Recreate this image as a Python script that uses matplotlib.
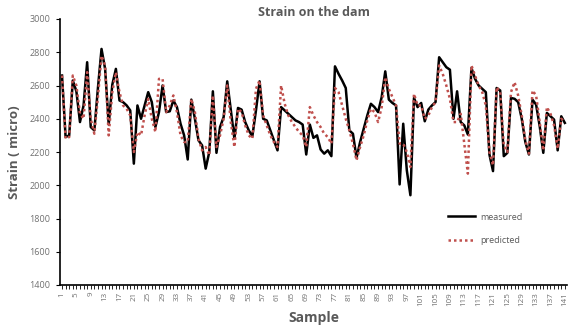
import matplotlib
matplotlib.use('Agg')
import matplotlib.pyplot as plt

# sample numbers 1..141
samples = list(range(1, 142))

measured = [2660, 2290, 2300, 2630, 2565, 2380, 2480, 2740, 2350, 2330,
            2585, 2820, 2700, 2365, 2605, 2700, 2510, 2500, 2480, 2450,
            2130, 2480, 2400, 2480, 2560, 2500, 2350, 2440, 2600, 2440,
            2445, 2510, 2470, 2370, 2300, 2155, 2515, 2400, 2270, 2240,
            2100, 2200, 2565, 2195, 2350, 2410, 2625, 2450, 2280, 2465,
            2455, 2380, 2330, 2295, 2450, 2625, 2400, 2390, 2330, 2270,
            2210, 2470, 2450, 2430, 2410, 2390, 2380, 2365, 2185, 2365,
            2285, 2300, 2215, 2190, 2210, 2175, 2715, 2670, 2630, 2585,
            2330, 2310, 2165, 2260, 2340, 2420, 2490, 2470, 2440, 2530,
            2685, 2515, 2495, 2480, 2005, 2370, 2090, 1940, 2525, 2470,
            2495, 2385, 2455, 2480, 2500, 2770, 2740, 2710, 2695, 2400,
            2565, 2380, 2360, 2305, 2705, 2640, 2600, 2580, 2560, 2185,
            2085, 2585, 2570, 2175, 2195, 2525, 2520, 2500, 2400, 2260,
            2185, 2515, 2485, 2355, 2195, 2435, 2415, 2395, 2210, 2415,
            2375]

predicted = [2660, 2280, 2290, 2660, 2600, 2430, 2400, 2680, 2400, 2310,
             2530, 2780, 2720, 2300, 2560, 2680, 2560, 2480, 2460, 2420,
             2200, 2320, 2300, 2420, 2520, 2400, 2320, 2640, 2640, 2440,
             2480, 2540, 2440, 2300, 2260, 2260, 2520, 2440, 2280, 2210,
             2230, 2180, 2540, 2230, 2300, 2400, 2600, 2380, 2230, 2460,
             2440, 2360, 2300, 2280, 2580, 2630, 2420, 2360, 2300, 2260,
             2230, 2600, 2490, 2420, 2380, 2350, 2320, 2300, 2230, 2470,
             2420, 2380, 2350, 2310, 2290, 2250, 2585, 2560, 2480, 2400,
             2330, 2250, 2150, 2230, 2300, 2390, 2460, 2440, 2380, 2470,
             2650, 2580, 2530, 2480, 2250, 2250, 2200, 2110, 2550, 2480,
             2480, 2400, 2420, 2470, 2500, 2720, 2670, 2600, 2520, 2380,
             2380, 2430, 2250, 2070, 2720, 2660, 2600, 2560, 2480, 2200,
             2120, 2590, 2560, 2240, 2200, 2560, 2620, 2540, 2420, 2270,
             2190, 2570, 2540, 2380, 2210, 2470, 2430, 2360, 2220, 2400,
             2380]

tick_labels = [str(s) for s in samples]

gray = '#595959'
plt.rcParams['font.family'] = ['Open Sans', 'DejaVu Sans']

fig = plt.figure(figsize=(5.68, 3.30), dpi=100)
ax = fig.add_axes([60/568, 1-285/330, 507/568, 266/330])

ax.plot(samples, measured, color='black', lw=1.8, label='measured')
ax.plot(samples, predicted, color='#C0504D', lw=1.8, linestyle=(0, (1, 1.2)), label='predicted')

ax.set_xlim(0.44, 141.6)
ax.set_ylim(1400, 3000)
ax.set_yticks(range(1400, 3001, 200))
ax.tick_params(axis='y', labelsize=6.5, labelcolor='#707070', length=3, width=0.8, pad=4)

ax.set_xticks(samples)
ax.set_xticklabels([l if (int(l) - 1) % 4 == 0 else '' for l in tick_labels], rotation=90)
ax.tick_params(axis='x', labelsize=5.8, labelcolor='#707070', length=3, width=0.6, pad=2)

for s in ['top', 'right']:
    ax.spines[s].set_visible(False)
ax.spines['left'].set_linewidth(1.2)
ax.spines['bottom'].set_linewidth(1.2)

ax.set_title('Strain on the dam', fontsize=9, fontweight='bold', color=gray, pad=2)
ax.set_xlabel('Sample', fontsize=10, fontweight='bold', color=gray, labelpad=4)
ax.set_ylabel('Strain ( micro)', fontsize=9.5, fontweight='bold', color=gray, labelpad=6)

leg = ax.legend(loc='lower left', bbox_to_anchor=(0.75, 0.12), frameon=False,
                fontsize=6.5, handlelength=3.0, handletextpad=0.5, labelspacing=1.6)
for t in leg.get_texts():
    t.set_color(gray)

fig.savefig('out.png', dpi=100)
